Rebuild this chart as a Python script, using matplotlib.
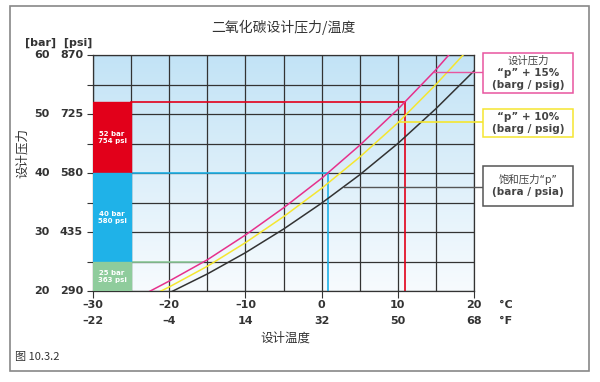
import numpy as np
import matplotlib.pyplot as plt
from matplotlib.patches import Rectangle
from matplotlib.colors import LinearSegmentedColormap

plt.rcParams['font.family'] = ['Noto Sans CJK SC', 'DejaVu Sans']
LATIN = ['DejaVu Sans', 'Noto Sans CJK SC']

# temperatures (degC) and pressures (bar)
temps = [-25, -20, -15, -10, -5, 0, 5, 10, 15, 20]
p_sat = [16.8, 19.7, 22.9, 26.5, 30.5, 34.9, 39.7, 45.0, 50.9, 57.3]
p_plus10 = [17.5, 20.7, 24.2, 28.2, 32.6, 37.4, 42.7, 48.5, 55.0, 62.0]
p_plus15 = [18.3, 21.7, 25.3, 29.5, 34.1, 39.1, 44.7, 50.8, 57.5, 64.9]

# design pressure levels and the temperature where they meet the +15% curve
design_bar = [52, 40, 25]
design_psi = [754, 580, 363]
design_temp = [11.0, 0.9, -15.5]
design_colors = ['#e2001a', '#1fb2e8', '#8fcc9c']

bar_ticks = [20, 30, 40, 50, 60]
psi_ticks = ['290', '435', '580', '725', '870']
c_ticks = [-30, -20, -10, 0, 10, 20]
f_ticks = ['\u201322', '\u20134', '14', '32', '50', '68']

fig = plt.figure(figsize=(6, 3.82), dpi=100)
ax = fig.add_axes([0.155, 0.238, 0.635, 0.618])

# background gradient
grad = np.linspace(0, 1, 256).reshape(-1, 1)
bg = LinearSegmentedColormap.from_list('bg', ['#f7fbfe', '#c2e3f6'])
ax.imshow(grad, extent=[-30, 20, 20, 60], aspect='auto', origin='lower', cmap=bg, zorder=0)

for x in np.arange(-30, 21, 5):
    ax.axvline(x, color='#333333', lw=0.9, zorder=1)
for y in np.arange(20, 61, 5):
    ax.axhline(y, color='#333333', lw=0.9, zorder=1)

# design pressure blocks
lows = [40, 25, 20]
for top, low, psi, col, t in zip(design_bar, lows, design_psi, design_colors, design_temp):
    ax.add_patch(Rectangle((-30, low), 5, top - low, color=col, zorder=3))
    ax.text(-27.5, (top + low) / 2, f'{top} bar\n{psi} psi', color='white', fontsize=5,
            fontweight='bold', ha='center', va='center', linespacing=1.3, zorder=4,
            family=LATIN)
    ax.plot([-25, t], [top, top], color=col, lw=1.2, zorder=2)
    if top != 25:
        ax.plot([t, t], [20, top], color=col, lw=1.2, zorder=2)

ax.plot(temps, p_sat, color='#333333', lw=1.1, zorder=5)
ax.plot(temps, p_plus10, color='#f5e630', lw=1.1, zorder=5)
ax.plot(temps, p_plus15, color='#e6318c', lw=1.1, zorder=5)

ax.set_xlim(-30, 20)
ax.set_ylim(20, 60)
for s in ax.spines.values():
    s.set_color('#333333')
    s.set_linewidth(0.9)

ax.set_xticks(c_ticks)
ax.set_xticklabels([])
ax.set_yticks(np.arange(20, 61, 5))
ax.set_yticklabels([])
ax.tick_params(axis='x', length=5, color='#333333')
ax.tick_params(axis='y', length=4, color='#333333')

# double tick labels
lab = dict(fontsize=8, fontweight='bold', color='#333333', family=LATIN, clip_on=False)
for b, p in zip(bar_ticks, psi_ticks):
    ax.text(-35.7, b, str(b), ha='right', va='center', **lab)
    ax.text(-31.3, b, p, ha='right', va='center', **lab)
fig.text(0.097, 0.888, '[bar]  [psi]', ha='center', va='center', fontsize=8, fontweight='bold',
         color='#333333', family=LATIN)
for c, f in zip(c_ticks, f_ticks):
    cl = str(c).replace('-', '\u2013')
    ax.text(c, 17.6, cl, ha='center', va='center', **lab)
    ax.text(c, 14.9, f, ha='center', va='center', **lab)
ax.text(24.2, 17.6, '°C', ha='center', va='center', **lab)
ax.text(24.2, 14.9, '°F', ha='center', va='center', **lab)

fig.text(0.472, 0.928, '二氧化碳设计压力/温度', ha='center', va='center', fontsize=10, color='#333333')
fig.text(0.475, 0.115, '设计温度', ha='center', va='center', fontsize=9, color='#333333')
fig.text(0.037, 0.60, '设计压力', ha='center', va='center', fontsize=9, rotation=90, color='#333333')
fig.text(0.025, 0.065, '图 10.3.2', ha='left', va='center', fontsize=8, color='#333333')

# callout boxes
boxes = [
    (53, 93, '#e8559f', ['设计压力', '\u201cp\u201d + 15%', '(barg / psig)'], [False, True, True]),
    (109, 137, '#f5e630', ['\u201cp\u201d + 10%', '(barg / psig)'], [True, True]),
    (166, 206, '#555555', ['饱和压力\u201cp\u201d', '(bara / psia)'], [False, True]),
]
for top, bot, col, lines, bolds in boxes:
    y0 = 1 - bot / 382
    h = (bot - top) / 382
    fig.add_artist(Rectangle((483 / 600, y0), 90 / 600, h, transform=fig.transFigure,
                             fill=True, facecolor='white', edgecolor=col, lw=1.1))
    n = len(lines)
    mid = (top + bot) / 2
    for i, (txt, bd) in enumerate(zip(lines, bolds)):
        yy = 1 - (mid + (i - (n - 1) / 2) * 12.5) / 382
        fig.text(528 / 600, yy, txt, ha='center', va='center', fontsize=7.5, color='#444444',
                 fontweight='bold' if bd else 'normal', family=LATIN)

# leader lines from curves to boxes
ax.plot([14.7, 21.3], [57.1, 57.1], color='#e8559f', lw=1, clip_on=False, zorder=6)
ax.plot([10.1, 21.3], [48.6, 48.6], color='#f5e630', lw=1.2, clip_on=False, zorder=6)
ax.plot([2.9, 21.3], [37.6, 37.6], color='#555555', lw=1, clip_on=False, zorder=6)

# outer frame
fig.add_artist(Rectangle((10 / 600, 1 - 371 / 382), 579 / 600, 365 / 382, transform=fig.transFigure,
                         fill=False, edgecolor='#888888', lw=1.2))

fig.savefig('out.png', dpi=100)
